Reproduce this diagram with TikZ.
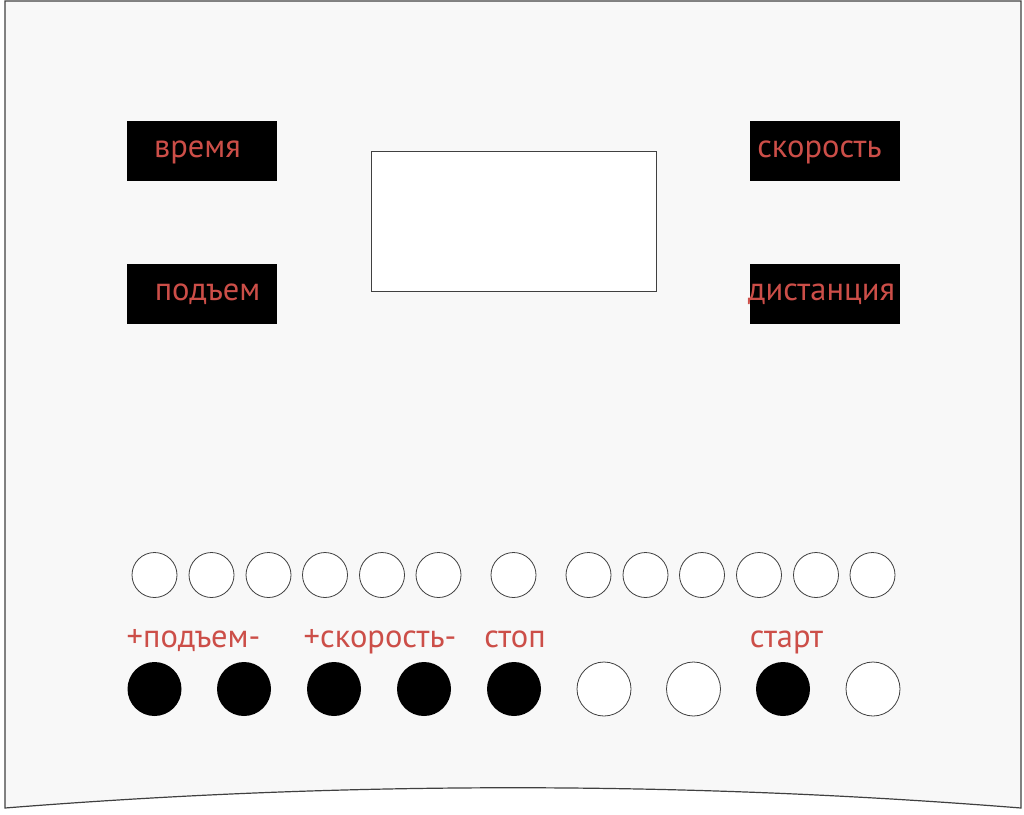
\documentclass[tikz,border=0pt]{standalone}
\usepackage{fontspec}
\setmainfont{PT Sans}
\definecolor{labelred}{RGB}{204,78,72}
\definecolor{panelgray}{RGB}{248,248,248}
\definecolor{edgegray}{RGB}{64,64,64}
\begin{document}
\begin{tikzpicture}[
       x=1pt, y=-1pt,
       knopf/.style={
         circle,
         fill=black,
         inner sep=0pt,
         minimum size=54pt
       },
       leerknopf/.style={
         knopf,
         fill=white,
         draw=edgegray,
         line width=0.8pt
       },
       lampe/.style={
         circle,
         fill=white,
         draw=edgegray,
         line width=0.8pt,
         inner sep=0pt,
         minimum size=45pt
       },
       anzeige/.style={
         rectangle,
         fill=black,
         inner sep=0pt,
         minimum width=150pt,
         minimum height=60pt
       },
       beschrift/.style={
         text=labelred,
         inner sep=0pt,
         anchor=base,
         font=\fontsize{32.5}{38}\selectfont
       }
     ]

       \useasboundingbox (0,0) rectangle (1024,814);

       % panel outline
       \coordinate (tl) at (5,1);
       \coordinate (tr) at (1021,1);
       \coordinate (br) at (1021,808);
       \coordinate (bl) at (5,808);
       \draw[edgegray, fill=panelgray, line width=1.2pt]
         (bl) -- (tl) -- (tr) -- (br) .. controls (682,781) and (344,781) .. (bl) -- cycle;

       % display
       \node (screen) at (513.5,221) [rectangle, draw=edgegray, fill=white, line width=0.8pt,
         inner sep=0pt, minimum width=285pt, minimum height=140pt]{};

       % readouts
       \node (zeit) at (202,151) [anzeige]{};
       \node (hub) at (202,294) [anzeige]{};
       \node (tempo) at (825,151) [anzeige]{};
       \node (strecke) at (825,294) [anzeige]{};
       \node (zeittext) at (197.5,157) [beschrift]{время};
       \node (hubtext) at (207.5,300) [beschrift]{подъем};
       \node (tempotext) at (819.5,157) [beschrift]{скорость};
       \node (streckentext) at (821.5,300) [beschrift]{дистанция};

       % lamps
       \node (l1) at (154.5,575) [lampe]{};
       \node (l2) at (211.5,575) [lampe]{};
       \node (l3) at (268.5,575) [lampe]{};
       \node (l4) at (325,575) [lampe]{};
       \node (l5) at (382,575) [lampe]{};
       \node (l6) at (438.5,575) [lampe]{};
       \node (l7) at (513.5,575) [lampe]{};
       \node (l8) at (588.5,575) [lampe]{};
       \node (l9) at (645.5,575) [lampe]{};
       \node (l10) at (702,575) [lampe]{};
       \node (l11) at (759,575) [lampe]{};
       \node (l12) at (816,575) [lampe]{};
       \node (l13) at (872.5,575) [lampe]{};

       % buttons
       \node (b1) at (154.5,689) [knopf]{};
       \node (b2) at (244,689) [knopf]{};
       \node (b3) at (334,689) [knopf]{};
       \node (b4) at (424,689) [knopf]{};
       \node (b5) at (514,689) [knopf]{};
       \node (b6) at (604,689) [leerknopf]{};
       \node (b7) at (693.5,689) [leerknopf]{};
       \node (b8) at (783,689) [knopf]{};
       \node (b9) at (873,689) [leerknopf]{};

       \node (hubtasten) at (193.5,647) [beschrift]{+подъем-};
       \node (tempotasten) at (380,647) [beschrift]{+скорость-};
       \node (stoptext) at (515,647) [beschrift]{стоп};
       \node (starttext) at (786.5,647) [beschrift]{старт};

\end{tikzpicture}
\end{document}
